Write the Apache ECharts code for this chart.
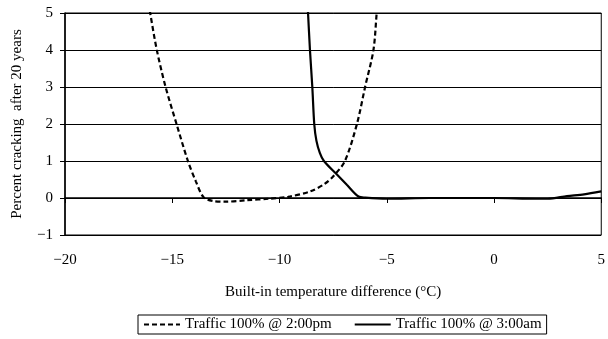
<!DOCTYPE html>
<html><head><meta charset="utf-8">
<script src="https://cdn.jsdelivr.net/npm/echarts@6/dist/echarts.min.js"></script>
<style>html,body{margin:0;padding:0;background:#fff}#c{width:608px;height:339px}</style>
</head><body><div id="c"></div>
<script>
const seriesNames = ['Traffic 100% @ 2:00pm', 'Traffic 100% @ 3:00am'];
const xTicks = [-20, -15, -10, -5, 0, 5];
const yTicks = [-1, 0, 1, 2, 3, 4, 5];
const pm2 = [[-16.18,5.5],[-16.03,5],[-15.72,4],[-15.31,3],[-14.8,2],[-14.27,1],[-13.9,0.45],[-13.54,0.02],[-13.1,-0.08],[-12.54,-0.1],[-11.5,-0.06],[-10.5,-0.02],[-9.6,0.03],[-8.56,0.18],[-7.9,0.38],[-7.47,0.6],[-6.95,1],[-6.39,2],[-6.01,3],[-5.62,4],[-5.47,5],[-5.4,5.5]];
const am3 = [[-8.72,5.5],[-8.67,5],[-8.58,4],[-8.47,3],[-8.38,2],[-8.28,1.55],[-8.12,1.22],[-7.93,1],[-7.3,0.62],[-6.85,0.35],[-6.32,0.04],[-6,0.01],[-5,-0.02],[-3,0],[0,0],[2,-0.02],[2.5,-0.02],[3.4,0.05],[4.2,0.1],[5,0.18]];

const font = '"Liberation Serif","Times New Roman",serif';
const fmt = v => String(v).replace('-', '\u2212');
const chart = echarts.init(document.getElementById('c'));
chart.setOption({
  animation: false,
  textStyle: {fontFamily: font},
  grid: {left: 65, right: 2, top: 13, bottom: 104, show: true, borderColor: '#000', borderWidth: 1},
  xAxis: {
    type: 'value', min: xTicks[0], max: xTicks[xTicks.length-1], interval: 5,
    name: 'Built-in temperature difference (\u00b0C)', nameLocation: 'middle', nameGap: 50,
    nameTextStyle: {fontFamily: font, fontSize: 15, color: '#000'},
    axisLine: {lineStyle: {color: '#000', width: 1.5}},
    axisTick: {show: true, length: 5, lineStyle: {color: '#000'}},
    axisLabel: {fontFamily: font, fontSize: 15, color: '#000', margin: 18, formatter: fmt},
    splitLine: {show: false}
  },
  yAxis: {
    type: 'value', min: yTicks[0], max: yTicks[yTicks.length-1], interval: 1,
    name: 'Percent cracking  after 20 years', nameLocation: 'middle', nameGap: 40, nameRotate: 90,
    nameTextStyle: {fontFamily: font, fontSize: 15, color: '#000'},
    axisLine: {show: true, onZero: false, lineStyle: {color: '#000', width: 1.5}},
    axisTick: {show: true, length: 5, lineStyle: {color: '#000'}},
    axisLabel: {fontFamily: font, fontSize: 15, color: '#000', margin: 12, formatter: fmt},
    splitLine: {show: true, lineStyle: {color: '#000', width: 1}}
  },
  legend: {
    bottom: 5, left: 138, itemWidth: 36, itemGap: 22, padding: [2, 5],
    borderColor: '#000', borderWidth: 1,
    itemStyle: {opacity: 0},
    textStyle: {fontFamily: font, fontSize: 15, color: '#000'},
    data: seriesNames
  },
  series: [
    {name: seriesNames[0], type: 'line', data: pm2, smooth: 0.3, symbol: 'none', clip: true,
     lineStyle: {color: '#000', width: 2.2, type: [5, 3]}, itemStyle: {color: '#000'}},
    {name: seriesNames[1], type: 'line', data: am3, smooth: 0.3, symbol: 'none', clip: true,
     lineStyle: {color: '#000', width: 2.2, type: 'solid'}, itemStyle: {color: '#000'}}
  ]
});
</script></body></html>
